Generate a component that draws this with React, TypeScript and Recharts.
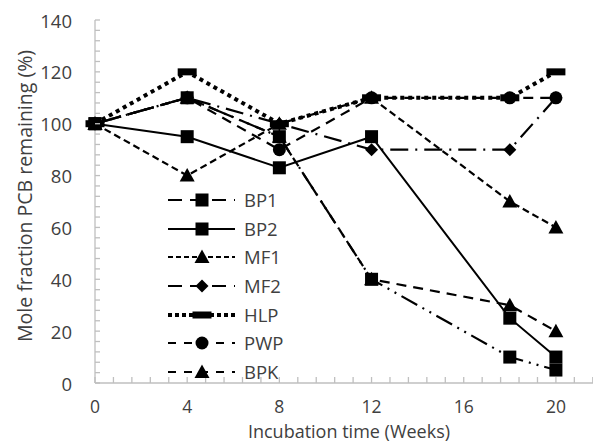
import React from 'react';
import { LineChart, Line, XAxis, YAxis, Legend, Label } from 'recharts';

const weeks = [0, 4, 8, 12, 18, 20];
const bp1 = [100, 110, 95, 40, 10, 5];
const bp2 = [100, 95, 83, 95, 25, 10];
const mf1 = [100, 80, 100, 110, 70, 60];
const mf2 = [100, 110, 100, 90, 90, 110];
const hlp = [100, 120, 100, 110, 110, 120];
const pwp = [100, 110, 90, 110, 110, 110];
const bpk = [100, 110, 95, 40, 30, 20];

const xTicks: number[] = Array.from({ length: 28 }, (_, i) => Math.round(i * 0.8 * 10) / 10);
const yTicks: number[] = Array.from({ length: 36 }, (_, i) => i * 4);

const data = weeks.map((w, i) => ({
  week: w,
  BP1: bp1[i],
  BP2: bp2[i],
  MF1: mf1[i],
  MF2: mf2[i],
  HLP: hlp[i],
  PWP: pwp[i],
  BPK: bpk[i],
}));

type Shape = 'square' | 'triangle' | 'diamond' | 'circle' | 'dash';

const series: { key: string; shape: Shape; dash?: string; width: number }[] = [
  { key: 'BP1', shape: 'square', dash: '18 6 2 6 2 6', width: 2.2 },
  { key: 'BP2', shape: 'square', width: 2 },
  { key: 'MF1', shape: 'triangle', dash: '7 4', width: 2.2 },
  { key: 'MF2', shape: 'diamond', dash: '18 7 2 7', width: 2.2 },
  { key: 'HLP', shape: 'dash', dash: '4 4', width: 4 },
  { key: 'PWP', shape: 'circle', dash: '10 7', width: 2.2 },
  { key: 'BPK', shape: 'triangle', dash: '10 7', width: 2.2 },
];

const legendDash: Record<string, string | undefined> = {
  BP1: '14 8',
  BP2: undefined,
  MF1: '5 3',
  MF2: '14 8',
  HLP: '4 3',
  PWP: '8 8',
  BPK: '8 8',
};

const FONT = '"Open Sans", sans-serif';
const TEXT = '#404040';
const AXIS = '#bfbfbf';

function Marker({ shape, cx, cy }: { shape: Shape; cx: number; cy: number }) {
  switch (shape) {
    case 'square':
      return <rect x={cx - 6.5} y={cy - 6.5} width={13} height={13} fill="#000" />;
    case 'triangle':
      return <polygon points={`${cx},${cy - 7.5} ${cx + 7.5},${cy + 6} ${cx - 7.5},${cy + 6}`} fill="#000" />;
    case 'diamond':
      return <polygon points={`${cx},${cy - 6.5} ${cx + 6.5},${cy} ${cx},${cy + 6.5} ${cx - 6.5},${cy}`} fill="#000" />;
    case 'circle':
      return <circle cx={cx} cy={cy} r={6.5} fill="#000" />;
    case 'dash':
      return <rect x={cx - 9.5} y={cy - 3.5} width={19} height={7} fill="#000" />;
  }
  return null;
}

const XTick = (props: any) => {
  const { x, y, payload } = props;
  const v = payload.value as number;
  const major = Math.abs(v / 4 - Math.round(v / 4)) < 1e-6;
  return (
    <g>
      <line x1={x} x2={x} y1={y} y2={y - 6} stroke={AXIS} strokeWidth={1.3} />
      {major && (
        <text x={x} y={y + 23} textAnchor="middle" dominantBaseline="central" fontSize={17.5} fill={TEXT} fontFamily={FONT}>
          {v}
        </text>
      )}
    </g>
  );
};

const YTick = (props: any) => {
  const { x, y, payload } = props;
  const v = payload.value as number;
  const major = v % 20 === 0;
  return (
    <g>
      <line x1={x} x2={x + 5} y1={y} y2={y} stroke={AXIS} strokeWidth={1.3} />
      {major && (
        <text x={x - 23} y={y} textAnchor="end" dominantBaseline="central" fontSize={18.5} fill={TEXT} fontFamily={FONT}>
          {v}
        </text>
      )}
    </g>
  );
};

const LegendContent = () => (
  <div style={{ fontFamily: FONT, fontSize: 18.5, color: TEXT }}>
    {series.map((s) => (
      <div key={s.key} style={{ display: 'flex', alignItems: 'center', height: 28.6 }}>
        <svg width={70} height={20} style={{ display: 'block' }}>
          <line
            x1={0}
            x2={67}
            y1={10}
            y2={10}
            stroke="#000"
            strokeWidth={s.key === 'HLP' ? 4 : 2.2}
            strokeDasharray={legendDash[s.key]}
          />
          <Marker shape={s.shape} cx={34} cy={10} />
        </svg>
        <span style={{ marginLeft: 6, lineHeight: '20px' }}>{s.key}</span>
      </div>
    ))}
  </div>
);

export default function App() {
  return (
    <div style={{ position: 'absolute', left: 0, top: 0, width: 593, height: 443, overflow: 'hidden', background: '#fff' }}>
      <LineChart width={610} height={443} data={data} margin={{ top: 20, right: 8, bottom: 0, left: 0 }}>
        <XAxis
          dataKey="week"
          type="number"
          domain={[0, 22]}
          ticks={xTicks}
          interval={0}
          tickLine={false}
          tickSize={0}
          tickMargin={0}
          height={60}
          axisLine={{ stroke: AXIS, strokeWidth: 1.3 }}
          tick={<XTick />}
        >
          <Label
            content={() => (
              <text x={349} y={431} textAnchor="middle" dominantBaseline="central" fontSize={18} fill={TEXT} fontFamily={FONT}>
                Incubation time (Weeks)
              </text>
            )}
          />
        </XAxis>
        <YAxis
          type="number"
          domain={[0, 140]}
          ticks={yTicks}
          interval={0}
          tickLine={false}
          tickSize={0}
          tickMargin={0}
          width={95}
          axisLine={{ stroke: AXIS, strokeWidth: 1.3 }}
          tick={<YTick />}
        >
          <Label
            content={() => (
              <text
                x={24}
                y={196}
                transform="rotate(-90 24 196)"
                textAnchor="middle"
                dominantBaseline="central"
                fontSize={19.5}
                fill={TEXT}
                fontFamily={FONT}
              >
                Mole fraction PCB remaining (%)
              </text>
            )}
          />
        </YAxis>
        <Legend
          layout="vertical"
          align="center"
          verticalAlign="middle"
          content={<LegendContent />}
          wrapperStyle={{ position: 'absolute', left: 168, top: 186, width: 140, height: 205 }}
        />
        {series.map((s) => (
          <Line
            key={s.key}
            dataKey={s.key}
            stroke="#000"
            strokeWidth={s.width}
            strokeDasharray={s.dash}
            isAnimationActive={false}
            dot={(p: any) => <Marker key={`${s.key}-${p.index}`} shape={s.shape} cx={p.cx} cy={p.cy} />}
            activeDot={false}
          />
        ))}
      </LineChart>
    </div>
  );
}
